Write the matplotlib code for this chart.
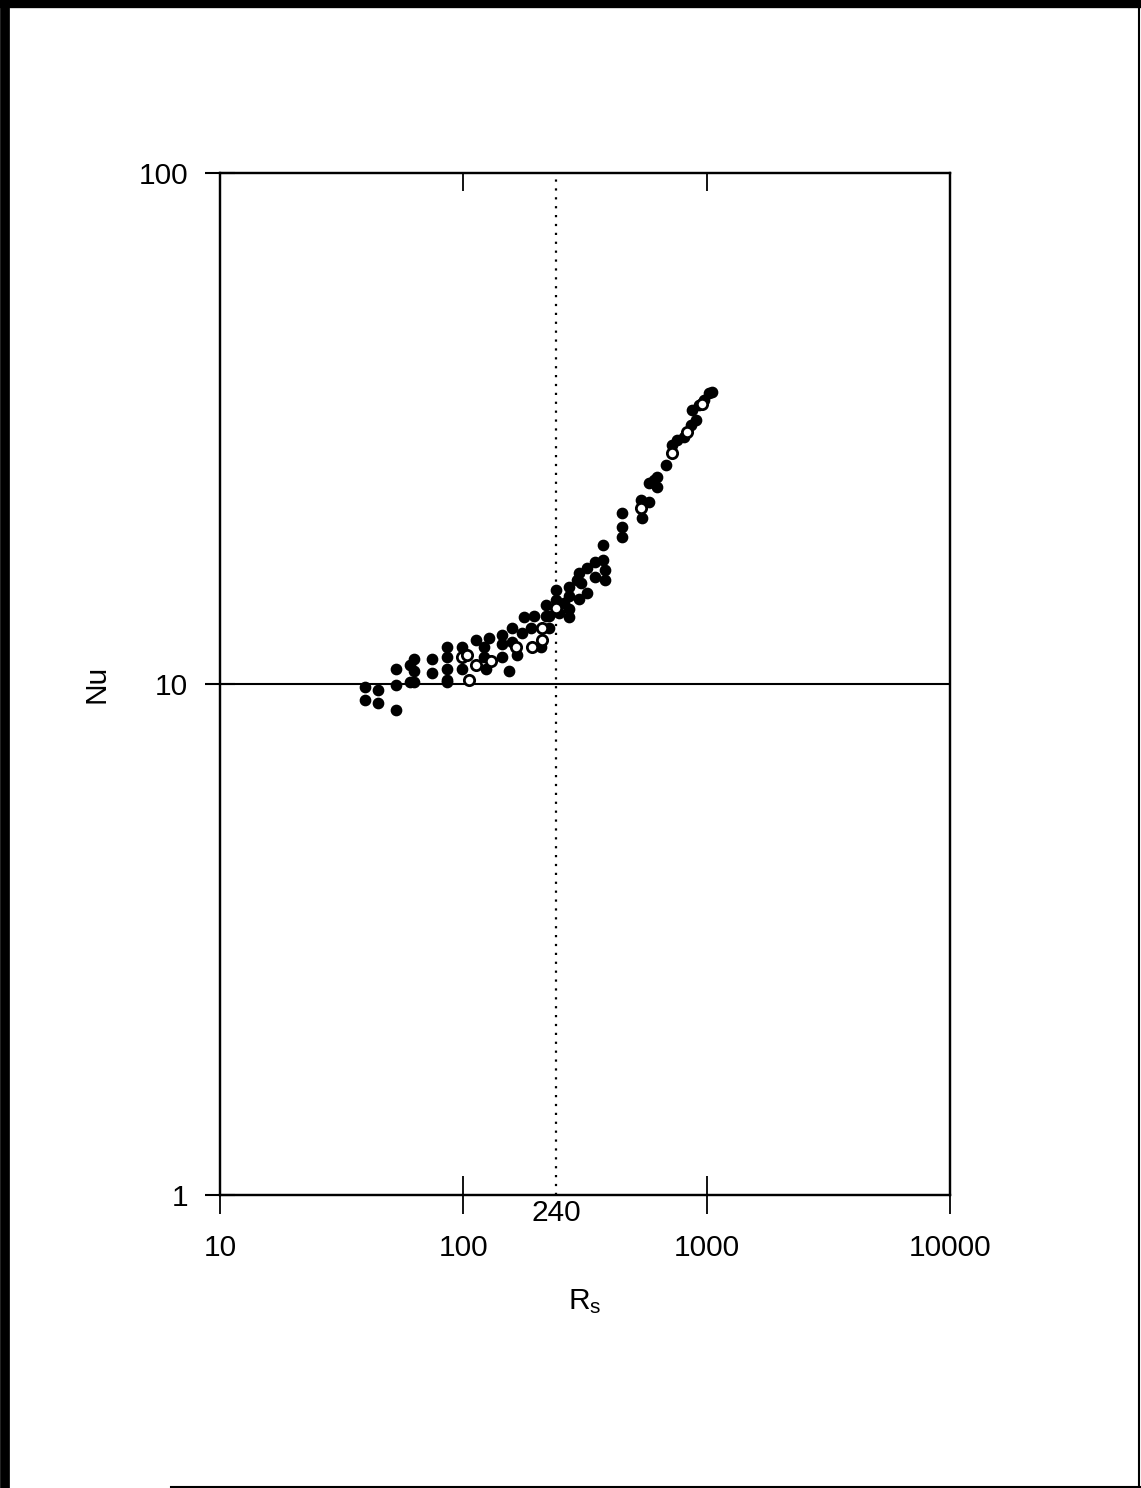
import matplotlib
matplotlib.use("Agg")
from matplotlib import pyplot as plt
from matplotlib.lines import Line2D
import matplotlib.transforms as mtransforms

plt.rcParams['font.family'] = ['Liberation Sans', 'DejaVu Sans']
plt.rcParams['mathtext.default'] = 'regular'

# filled circles (Rs, Nu)
rs_filled = [39.3, 39.3, 44.4, 44.4, 53.1, 53.1, 53.1, 60.1, 63.0, 63.0, 60.1, 63.0,
             74.6, 74.6, 86.0, 86.0, 86.0, 86.0, 86.0, 99.1, 99.1,
             113, 122, 128, 122, 124, 144.5, 144.5, 144.5, 154.5, 159, 159, 166,
             175, 178, 190, 195, 209, 219, 219, 225, 225, 240, 240, 247,
             259, 272, 272, 272, 272, 293, 299, 299, 305, 322, 322,
             348, 348, 375, 375, 382, 382, 449, 449, 449,
             537, 542, 578, 578, 606, 624, 624, 679, 719, 754, 805,
             859, 868, 902, 927, 972, 1019, 1047]
nu_filled = [9.86, 9.30, 9.73, 9.18, 10.7, 9.95, 8.91, 10.9, 11.2, 10.6, 10.1, 10.1,
             11.2, 10.5, 11.8, 11.3, 10.7, 10.2, 10.1, 11.8, 10.7,
             12.2, 11.8, 12.3, 11.3, 10.7, 12.5, 12.0, 11.3, 10.6, 12.9, 12.1, 11.4,
             12.6, 13.5, 12.9, 13.6, 11.8, 14.3, 13.6, 13.6, 12.9, 15.3, 14.6, 13.8,
             14.4, 15.5, 14.9, 14.0, 13.5, 16.0, 16.5, 14.7, 15.8, 16.9, 15.1,
             17.3, 16.2, 18.7, 17.5, 16.7, 16.0, 21.6, 20.3, 19.4,
             22.9, 21.1, 22.7, 24.7, 25.1, 25.4, 24.3, 26.8, 29.4, 30.0, 30.4,
             32.1, 34.4, 32.9, 35.2, 36.0, 37.1, 37.3]

# open circles (Rs, Nu)
rs_open = [99.1, 103.8, 105.8, 113, 130, 165, 192, 211, 211, 240, 537, 719, 828, 954]
nu_open = [11.3, 11.4, 10.2, 10.9, 11.1, 11.8, 11.8, 12.9, 12.2, 14.1, 22.1, 28.3, 31.1, 35.4]

x_ticks = [10, 100, 1000, 10000]
x_labels = ['10', '100', '1000', '10000']
top_ticks = [100, 1000]
y_ticks = [1, 10, 100]
y_labels = ['1', '10', '100']
rs_crit = 240

fig = plt.figure(figsize=(11.41, 14.88), dpi=100)
ax = fig.add_axes([0.1928, 0.1969, 0.6398, 0.6868])

ax.set_xscale('log')
ax.set_yscale('log')
ax.set_xlim(10, 10000)
ax.set_ylim(1, 100)

ax.axhline(10, color='black', linewidth=1.5, zorder=1)
ax.axvline(rs_crit, color='black', linewidth=1.6, linestyle=(0, (1, 3)), zorder=1)

ax.scatter(rs_filled, nu_filled, s=55, color='black', zorder=3)
ax.scatter(rs_open, nu_open, s=55, facecolor='white', edgecolor='black',
           linewidth=2.0, zorder=4)

ax.set_xticks(x_ticks)
ax.set_xticklabels(x_labels)
ax.set_yticks(y_ticks)
ax.set_yticklabels(y_labels)
ax.minorticks_off()

ax.tick_params(axis='x', which='major', direction='inout', length=28, width=1.3,
               labelsize=21.5, pad=14, top=False)
ax.tick_params(axis='y', which='major', direction='inout', length=22, width=1.5,
               labelsize=21.5, pad=12)

# top ticks point inward only
ax_top = ax.twiny()
ax_top.set_xscale('log')
ax_top.set_xlim(ax.get_xlim())
ax_top.set_xticks(top_ticks)
ax_top.minorticks_off()
ax_top.tick_params(axis='x', direction='in', length=13, width=1.3, labeltop=False)

for a in (ax, ax_top):
    for s in a.spines.values():
        s.set_linewidth(1.6)

trans = mtransforms.blended_transform_factory(ax.transData, ax.transAxes)
ax.text(rs_crit, -0.004, '240', transform=trans, ha='center', va='top', fontsize=21.5)

ax.set_xlabel('R$_s$', fontsize=21.5, labelpad=18)
ax.set_ylabel('Nu', fontsize=21.5, labelpad=20)

# page border of the scan
fig.add_artist(Line2D([0.004, 0.004], [0.0, 1.0], color='black', linewidth=7,
                      transform=fig.transFigure))
fig.add_artist(Line2D([0.0, 1.0], [0.997, 0.997], color='black', linewidth=6,
                      transform=fig.transFigure))
fig.add_artist(Line2D([0.998, 0.998], [0.0, 1.0], color='black', linewidth=1.5,
                      transform=fig.transFigure))
fig.add_artist(Line2D([0.15, 1.0], [0.001, 0.001], color='black', linewidth=1.5,
                      transform=fig.transFigure))

fig.savefig('out.png', dpi=100)
